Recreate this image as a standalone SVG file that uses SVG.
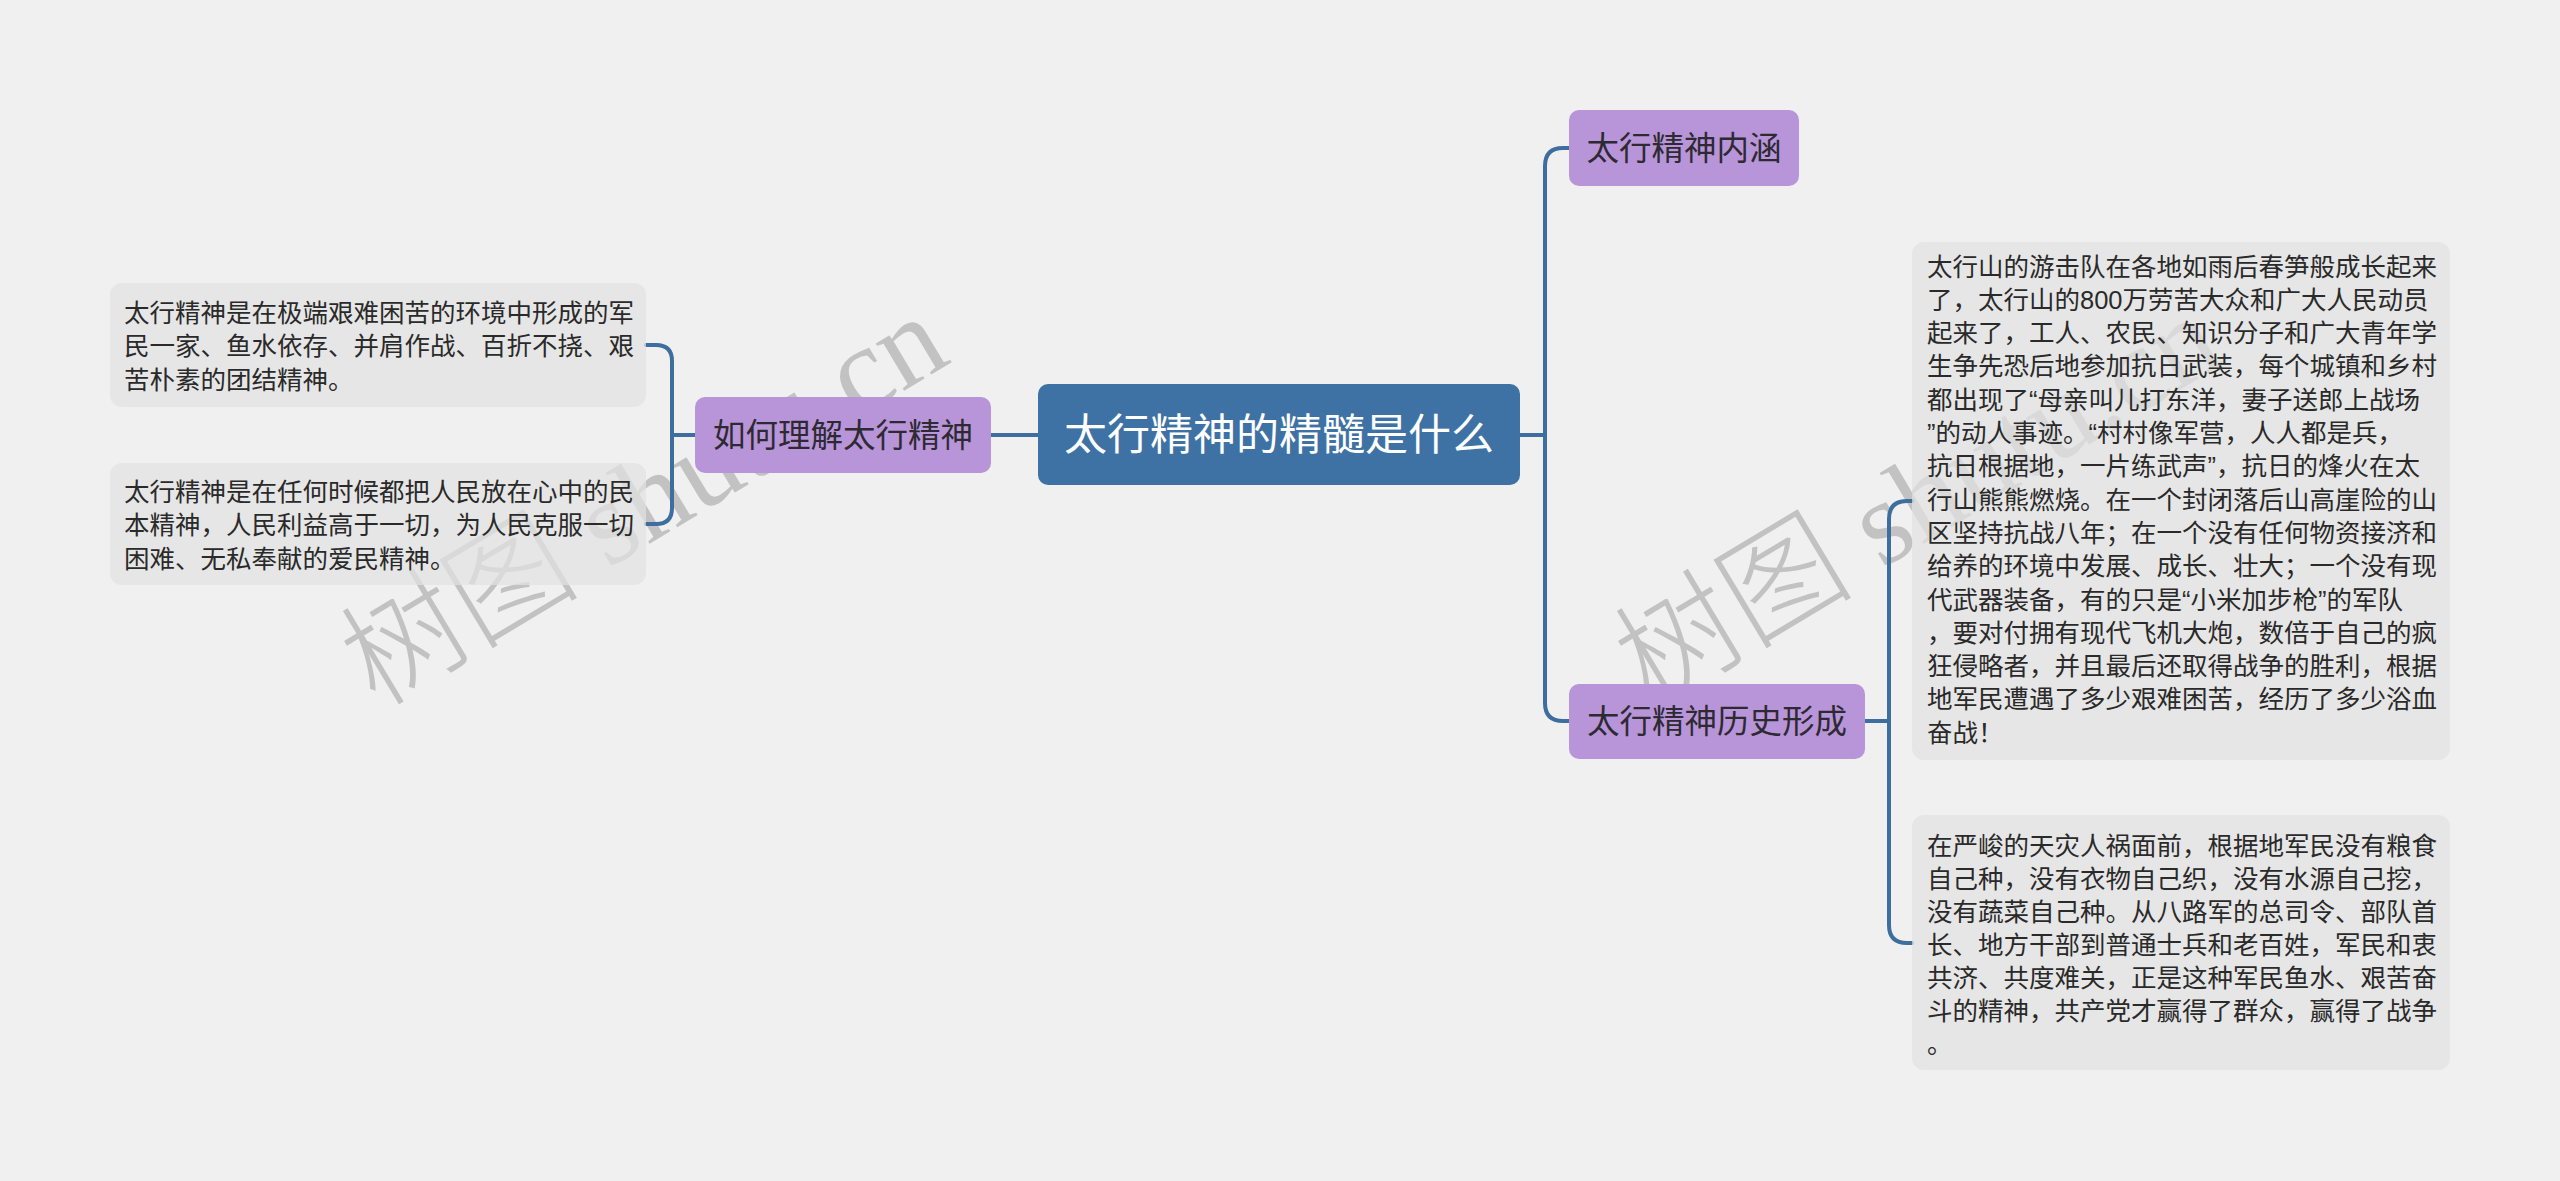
<svg xmlns="http://www.w3.org/2000/svg" width="2560" height="1181" viewBox="0 0 2560 1181">
<style>
.bg{fill:#f0f0f0}
.wm{fill:#c2c2c2;font-family:"Liberation Serif","Noto Sans CJK SC",serif;font-size:120px;font-weight:300}
.conn{fill:none;stroke:#3d6e9d;stroke-width:4;stroke-linecap:round}
.root{fill:#3e72a4}
.rootT{fill:#ffffff;font-family:"Liberation Sans","Noto Sans CJK SC",sans-serif;font-size:43px;text-anchor:middle}
.sub{fill:#b895d8}
.subT{fill:#2d2a33;font-family:"Liberation Sans","Noto Sans CJK SC",sans-serif;font-size:32.5px;text-anchor:middle}
.leaf{fill:#e2e2e2;fill-opacity:0.72}
.leafT{fill:#2a2a2a;font-family:"Liberation Sans","Noto Sans CJK SC",sans-serif;font-size:25.5px}
</style>
<rect class="bg" x="0" y="0" width="2560" height="1181"/>
<g id="watermarks">
<text class="wm" x="376" y="708" transform="rotate(-31 376 708)">树图 shutu.cn</text>
<text class="wm" x="1650" y="708" transform="rotate(-31 1650 708)">树图 shutu.cn</text>
</g>
<g id="connectors">
<path class="conn" d="M1038,435 H991"/>
<path class="conn" d="M695,435 H672"/>
<path class="conn" d="M646,345 H656 Q672,345 672,361 V508 Q672,524 656,524 H646"/>
<path class="conn" d="M1520,435 H1545"/>
<path class="conn" d="M1569,148 H1563 Q1545,148 1545,166 V703 Q1545,721 1563,721 H1569"/>
<path class="conn" d="M1865,721 H1889"/>
<path class="conn" d="M1912,501 H1907 Q1889,501 1889,519 V925 Q1889,943 1907,943 H1912"/>
</g>
<g id="root">
<rect class="root" x="1038" y="384" width="482" height="101" rx="10"/>
<text class="rootT" x="1279" y="450">太行精神的精髓是什么</text>
</g>
<g id="n-understand">
<rect class="sub" x="695" y="397" width="296" height="76" rx="10"/>
<text class="subT" x="843" y="447">如何理解太行精神</text>
</g>
<g id="n-connotation">
<rect class="sub" x="1569" y="110" width="230" height="76" rx="10"/>
<text class="subT" x="1684" y="160">太行精神内涵</text>
</g>
<g id="n-history">
<rect class="sub" x="1569" y="684" width="296" height="75" rx="10"/>
<text class="subT" x="1717" y="733">太行精神历史形成</text>
</g>
<g id="leaf-l1">
<rect class="leaf" x="110" y="283" width="536" height="124" rx="12"/>
<text class="leafT" x="124" y="321.5">太行精神是在极端艰难困苦的环境中形成的军</text>
<text class="leafT" x="124" y="355">民一家、鱼水依存、并肩作战、百折不挠、艰</text>
<text class="leafT" x="124" y="388.5">苦朴素的团结精神。</text>
</g>
<g id="leaf-l2">
<rect class="leaf" x="110" y="463" width="536" height="122" rx="12"/>
<text class="leafT" x="124" y="500.5">太行精神是在任何时候都把人民放在心中的民</text>
<text class="leafT" x="124" y="534">本精神，人民利益高于一切，为人民克服一切</text>
<text class="leafT" x="124" y="567.5">困难、无私奉献的爱民精神。</text>
</g>
<g id="leaf-r1">
<rect class="leaf" x="1912" y="242" width="538" height="518" rx="12"/>
<text class="leafT" x="1927" y="275.5">太行山的游击队在各地如雨后春笋般成长起来</text>
<text class="leafT" x="1927" y="308.8">了，太行山的800万劳苦大众和广大人民动员</text>
<text class="leafT" x="1927" y="342.1">起来了，工人、农民、知识分子和广大青年学</text>
<text class="leafT" x="1927" y="375.4">生争先恐后地参加抗日武装，每个城镇和乡村</text>
<text class="leafT" x="1927" y="408.7">都出现了“母亲叫儿打东洋，妻子送郎上战场</text>
<text class="leafT" x="1927" y="442">”的动人事迹。“村村像军营，人人都是兵，</text>
<text class="leafT" x="1927" y="475.3">抗日根据地，一片练武声”，抗日的烽火在太</text>
<text class="leafT" x="1927" y="508.6">行山熊熊燃烧。在一个封闭落后山高崖险的山</text>
<text class="leafT" x="1927" y="541.9">区坚持抗战八年；在一个没有任何物资接济和</text>
<text class="leafT" x="1927" y="575.2">给养的环境中发展、成长、壮大；一个没有现</text>
<text class="leafT" x="1927" y="608.5">代武器装备，有的只是“小米加步枪”的军队</text>
<text class="leafT" x="1927" y="641.8">，要对付拥有现代飞机大炮，数倍于自己的疯</text>
<text class="leafT" x="1927" y="675.1">狂侵略者，并且最后还取得战争的胜利，根据</text>
<text class="leafT" x="1927" y="708.4">地军民遭遇了多少艰难困苦，经历了多少浴血</text>
<text class="leafT" x="1927" y="741.7">奋战！</text>
</g>
<g id="leaf-r2">
<rect class="leaf" x="1912" y="815" width="538" height="255" rx="12"/>
<text class="leafT" x="1927" y="855">在严峻的天灾人祸面前，根据地军民没有粮食</text>
<text class="leafT" x="1927" y="888">自己种，没有衣物自己织，没有水源自己挖，</text>
<text class="leafT" x="1927" y="921">没有蔬菜自己种。从八路军的总司令、部队首</text>
<text class="leafT" x="1927" y="954">长、地方干部到普通士兵和老百姓，军民和衷</text>
<text class="leafT" x="1927" y="987">共济、共度难关，正是这种军民鱼水、艰苦奋</text>
<text class="leafT" x="1927" y="1020">斗的精神，共产党才赢得了群众，赢得了战争</text>
<text class="leafT" x="1927" y="1053">。</text>
</g>
</svg>
